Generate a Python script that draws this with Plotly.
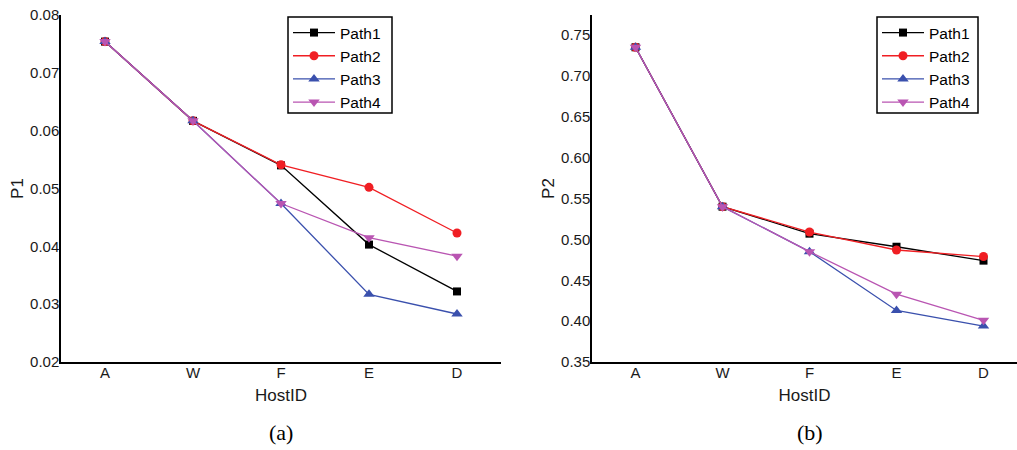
import plotly.graph_objects as go

hosts = ["A", "W", "F", "E", "D"]
paths = ["Path1", "Path2", "Path3", "Path4"]

p1_path1 = [0.0754, 0.0617, 0.0540, 0.0403, 0.0322]
p1_path2 = [0.0754, 0.0617, 0.0541, 0.0502, 0.0423]
p1_path3 = [0.0754, 0.0617, 0.0474, 0.0317, 0.0283]
p1_path4 = [0.0754, 0.0617, 0.0474, 0.0415, 0.0383]

p2_path1 = [0.735, 0.540, 0.507, 0.491, 0.474]
p2_path2 = [0.735, 0.540, 0.509, 0.487, 0.479]
p2_path3 = [0.735, 0.540, 0.485, 0.413, 0.394]
p2_path4 = [0.735, 0.540, 0.485, 0.433, 0.401]

p1_ticks = [0.02, 0.03, 0.04, 0.05, 0.06, 0.07, 0.08]
p2_ticks = [0.35, 0.40, 0.45, 0.50, 0.55, 0.60, 0.65, 0.70, 0.75]

colors = ["#000000", "#f01e23", "#3a50ad", "#b955b2"]
symbols = ["square", "circle", "triangle-up", "triangle-down"]
msizes = [8, 9, 10, 10]

FONT = "Liberation Sans, Arial, sans-serif"
SERIF = "Liberation Serif"

W, H = 1017, 450


def px(x):
    return x / W


def py(y):
    return 1 - y / H


fig = go.Figure()

for i, (name, ys) in enumerate(zip(paths, [p1_path1, p1_path2, p1_path3, p1_path4])):
    fig.add_trace(go.Scatter(
        x=hosts, y=ys, name=name, mode="lines+markers",
        line=dict(color=colors[i], width=1.3),
        marker=dict(symbol=symbols[i], size=msizes[i], color=colors[i]),
        xaxis="x", yaxis="y", legend="legend"))

for i, (name, ys) in enumerate(zip(paths, [p2_path1, p2_path2, p2_path3, p2_path4])):
    fig.add_trace(go.Scatter(
        x=hosts, y=ys, name=name, mode="lines+markers",
        line=dict(color=colors[i], width=1.3),
        marker=dict(symbol=symbols[i], size=msizes[i], color=colors[i]),
        xaxis="x2", yaxis="y2", legend="legend2"))

axis_common = dict(showline=True, linecolor="#000000", linewidth=1.5, ticks="",
                   showgrid=False, zeroline=False, automargin=False,
                   ticklabeloverflow="allow",
                   tickfont=dict(family=FONT, size=15, color="#1a1a1a"))
title_font = dict(family=FONT, size=17, color="#1a1a1a")

ydom = [py(362), py(15)]

legend_common = dict(xanchor="left", yanchor="top",
                     bgcolor="rgba(0,0,0,0)", borderwidth=0,
                     font=dict(family=FONT, size=15.5, color="#000000"),
                     tracegroupgap=0, itemwidth=42)

legend_box = dict(type="rect", xref="paper", yref="paper", layer="above",
                  line=dict(color="#000000", width=1.5), fillcolor="white")

fig.update_layout(
    width=W, height=H,
    margin=dict(l=0, r=0, t=0, b=0, autoexpand=False),
    paper_bgcolor="white", plot_bgcolor="white",
    showlegend=True,
    xaxis=dict(domain=[px(61), px(501)], type="category",
               categoryorder="array", categoryarray=hosts,
               range=[-0.5, 4.5], anchor="y", ticklabelstandoff=-4,
               title=dict(text="HostID", font=title_font, standoff=9),
               **axis_common),
    yaxis=dict(domain=ydom, range=[0.02, 0.08], tickvals=p1_ticks, tickformat=".2f",
               anchor="x", ticklabelstandoff=-3,
               title=dict(text="P1", font=title_font, standoff=2),
               **axis_common),
    xaxis2=dict(domain=[px(592), 1.0], type="category",
                categoryorder="array", categoryarray=hosts,
                range=[-0.5, 4.385], anchor="y2", ticklabelstandoff=-4,
                title=dict(text="HostID", font=title_font, standoff=9),
                **axis_common),
    yaxis2=dict(domain=ydom, range=[0.35, 0.7745], tickvals=p2_ticks, tickformat=".2f",
                anchor="x2", ticklabelstandoff=-3,
                title=dict(text="P2", font=title_font, standoff=2),
                **axis_common),
    legend=dict(x=px(288), y=py(16), **legend_common),
    legend2=dict(x=px(877), y=py(16), **legend_common),
    shapes=[
        dict(x0=px(288), x1=px(392), y0=py(113), y1=py(17), **legend_box),
        dict(x0=px(877), x1=px(978), y0=py(113), y1=py(17), **legend_box),
    ],
    annotations=[
        dict(text="(a)", x=px(281), y=py(432), xref="paper", yref="paper",
             xanchor="center", yanchor="middle", showarrow=False,
             font=dict(family=SERIF, size=22, color="#000000")),
        dict(text="(b)", x=px(810), y=py(432), xref="paper", yref="paper",
             xanchor="center", yanchor="middle", showarrow=False,
             font=dict(family=SERIF, size=22, color="#000000")),
    ],
)

fig.write_html("out.html", config={"displayModeBar": False},
               post_script="document.body.style.margin='0px';")
